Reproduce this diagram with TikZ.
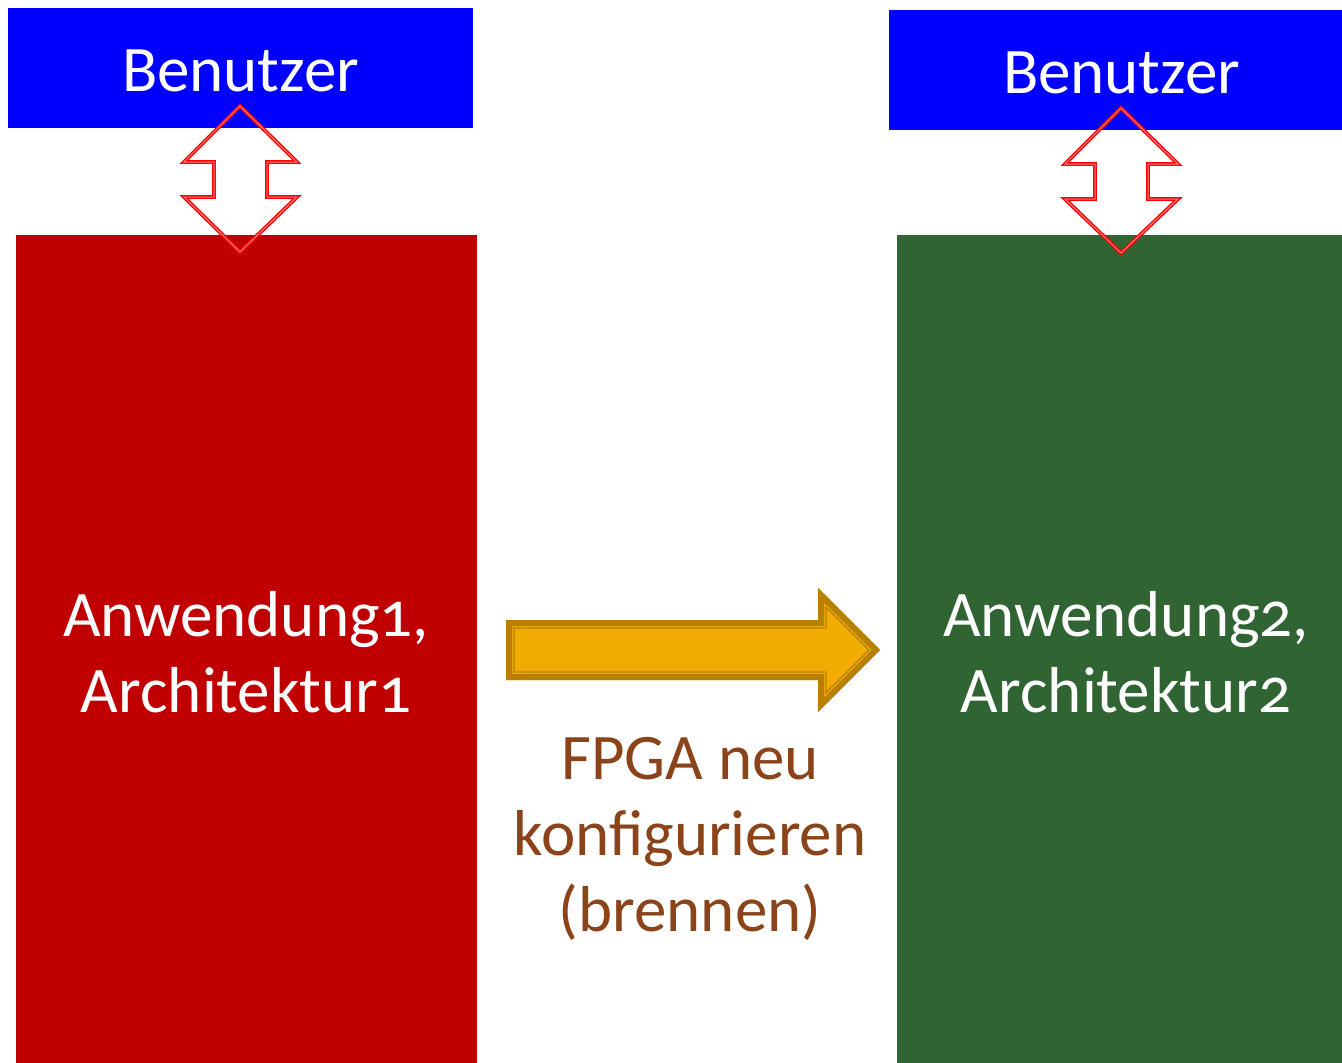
\documentclass[tikz,border=0pt]{standalone}
\usepackage{fontspec}
\setmainfont{Carlito}[Numbers=OldStyle]
\definecolor{bbox}{HTML}{0000FF}
\definecolor{rbox}{HTML}{C00000}
\definecolor{gbox}{HTML}{306433}
\definecolor{gold}{HTML}{F0AC00}
\definecolor{darkgold}{HTML}{B88000}
\definecolor{brownT}{HTML}{8B431A}
\tikzset{
  box/.style={anchor=north west, inner sep=0pt, outer sep=0pt},
  wtxt/.style={text=white, font=\fontsize{65}{76}\selectfont, align=center},
  dblarrow/.style={draw=red, line width=1.4pt, double=white!50!red, double distance=1pt, line join=miter},
  lbl/.style={text=brownT, font=\fontsize{65}{76}\selectfont, align=center}
}
\begin{document}
\begin{tikzpicture}[x=1pt,y=-1pt]
\useasboundingbox (0,0) rectangle (1342,1063);
% boxes
\node[box, fill=bbox, minimum width=465pt, minimum height=120pt] (u1) at (8,8) {};
\node[wtxt, yshift=-3pt] (u1t) at (u1.center) {Benutzer};
\node[box, fill=bbox, minimum width=453pt, minimum height=120pt] (u2) at (889,10) {};
\node[wtxt, yshift=-3pt, xshift=6pt] (u2t) at (u2.center) {Benutzer};
\node[box, fill=rbox, minimum width=461pt, minimum height=828pt] (a1) at (16,235) {};
\node[wtxt] (a1t) at (246,652) {Anwendung1,\\Architektur1};
\node[box, fill=gbox, minimum width=445pt, minimum height=828pt] (a2) at (897,235) {};
\node[wtxt] (a2t) at (1126,652) {Anwendung2,\\Architektur2};
% double arrows
\draw[dblarrow] (240,106) -- (297,162) -- (267,162) -- (267,197) -- (297,197) -- (240,252)
  -- (184,197) -- (214,197) -- (214,162) -- (184,162) -- cycle;
\draw[dblarrow] (1121,108) -- (1178,164) -- (1148,164) -- (1148,199) -- (1178,199) -- (1121,253)
  -- (1065,199) -- (1095,199) -- (1095,164) -- (1065,164) -- cycle;
% big arrow
\begin{scope}
\clip (506,620) -- (818,620) -- (818,588) -- (880,650) -- (818,712) -- (818,680) -- (506,680) -- cycle;
\fill[gold] (506,620) -- (818,620) -- (818,588) -- (880,650) -- (818,712) -- (818,680) -- (506,680) -- cycle;
\draw[darkgold, line width=12pt, line join=miter] (506,620) -- (818,620) -- (818,588) -- (880,650) -- (818,712) -- (818,680) -- (506,680) -- cycle;
\end{scope}
\draw[darkgold, line width=1.3pt, line join=miter] (514,628) -- (826,628) -- (826,607.3) -- (868.7,650) -- (826,692.7) -- (826,672) -- (514,672) -- cycle;
\node[lbl] (lab) at (690,839) {FPGA neu\\konfigurieren\\(brennen)};
\end{tikzpicture}
\end{document}
